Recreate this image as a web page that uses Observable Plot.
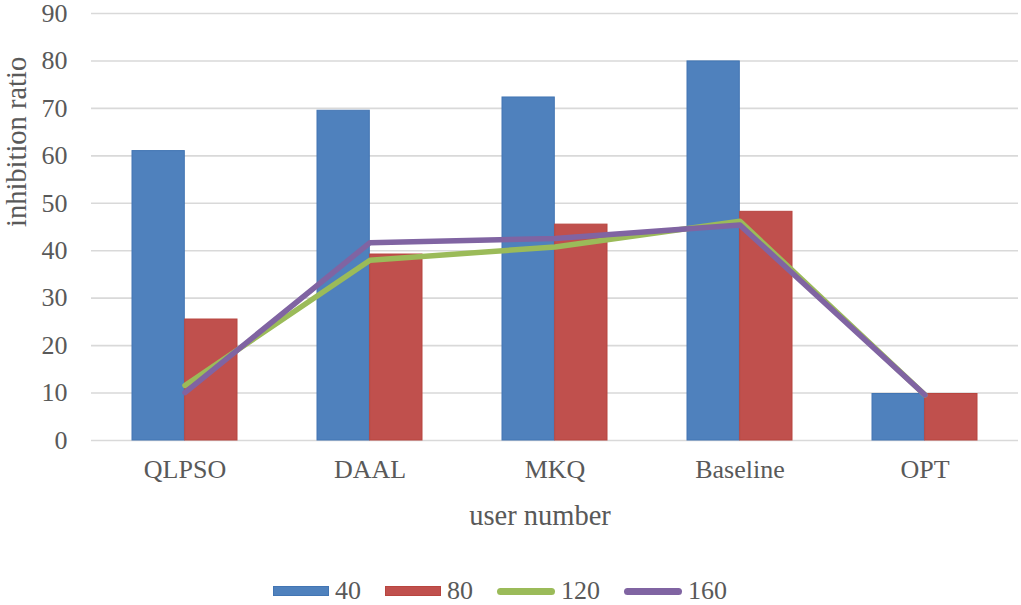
<!DOCTYPE html>
<html><head><meta charset="utf-8">
<script src="https://cdn.jsdelivr.net/npm/d3@7"></script>
<script src="https://cdn.jsdelivr.net/npm/@observablehq/plot@0.6"></script>
<style>
body{margin:0;background:#fff;font-family:'Liberation Serif','Times New Roman',Tinos,'Noto Serif','Nimbus Roman','FreeSerif','DejaVu Serif',serif;}
#legend{display:flex;align-items:center;margin-left:273px;margin-top:16px;height:30px;color:#595959;font-size:26px;}
.item{display:flex;align-items:center;margin-right:24px;}
.sw{width:56px;height:10px;margin-right:6px;box-sizing:border-box;}
.ln{width:58px;height:7px;border-radius:4px;margin-right:6px;}
</style></head><body><div id="chart"></div><div id="legend"></div>
<script>
const categories = ["QLPSO", "DAAL", "MKQ", "Baseline", "OPT"];
const series40 = [61.0, 69.5, 72.3, 79.9, 9.8];
const series80 = [25.5, 39.2, 45.5, 48.2, 9.8];
const series120 = [11.6, 38.0, 40.8, 46.2, 9.6];
const series160 = [10.1, 41.7, 42.6, 45.4, 9.6];
const seriesNames = ["40", "80", "120", "160"];
const colors = ["#4f81bd", "#c0504d", "#9bbb59", "#8064a2"];
const yTicks = [0, 10, 20, 30, 40, 50, 60, 70, 80, 90];
const xTitle = "user number";
const yTitle = "inhibition ratio";

const FONT = "'Liberation Serif','Times New Roman',Tinos,'Noto Serif','Nimbus Roman','FreeSerif','DejaVu Serif',serif";
const rows = s => categories.map((c, i) => ({cat: c, v: s[i]}));
const W = 1021, ML = 91, MR = 3;
const band = (W - ML - MR) / categories.length;
const half = band / 2;
const outer = 40;

const chart = Plot.plot({
  width: W, height: 560,
  marginLeft: ML, marginRight: MR, marginTop: 13, marginBottom: 120,
  style: {fontFamily: FONT, color: "#595959", background: "#fff"},
  x: {domain: categories, padding: 0},
  y: {domain: [0, 90]},
  marks: [
    Plot.ruleY(yTicks, {stroke: "#d9d9d9", strokeWidth: 1.6}),
    Plot.barY(rows(series40), {x: "cat", y: "v", fill: colors[0], stroke: "#4275b3", strokeWidth: 1, insetLeft: outer, insetRight: half}),
    Plot.barY(rows(series80), {x: "cat", y: "v", fill: colors[1], stroke: "#b8453f", strokeWidth: 1, insetLeft: half, insetRight: outer}),
    Plot.line(rows(series120), {x: "cat", y: "v", stroke: colors[2], strokeWidth: 5.5, strokeLinejoin: "round", strokeLinecap: "round"}),
    Plot.line(rows(series160), {x: "cat", y: "v", stroke: colors[3], strokeWidth: 5.5, strokeLinejoin: "round", strokeLinecap: "round"}),
    Plot.axisY({ticks: yTicks, tickSize: 0, tickPadding: 24, fontSize: 26, fontFamily: FONT, label: null, fill: "#595959"}),
    Plot.axisX({tickSize: 0, tickPadding: 19, fontSize: 26, fontFamily: FONT, label: null, fill: "#595959"}),
    Plot.text([xTitle], {frameAnchor: "bottom", dx: -15, dy: 84, fontSize: 28.5, fontFamily: FONT, fill: "#595959"}),
    Plot.text([yTitle], {frameAnchor: "left", dx: -75, rotate: -90, fontSize: 28.5, fontFamily: FONT, fill: "#595959"})
  ]
});
document.getElementById("chart").appendChild(chart);

const leg = document.getElementById("legend");
seriesNames.forEach((n, i) => {
  const it = document.createElement("div");
  it.className = "item";
  const sw = document.createElement("div");
  if (i < 2) { sw.className = "sw"; sw.style.background = colors[i]; sw.style.border = "1px solid " + (i === 0 ? "#4275b3" : "#b8453f"); }
  else { sw.className = "ln"; sw.style.background = colors[i]; }
  const t = document.createElement("span");
  t.textContent = n;
  it.appendChild(sw); it.appendChild(t);
  leg.appendChild(it);
});
</script></body></html>
